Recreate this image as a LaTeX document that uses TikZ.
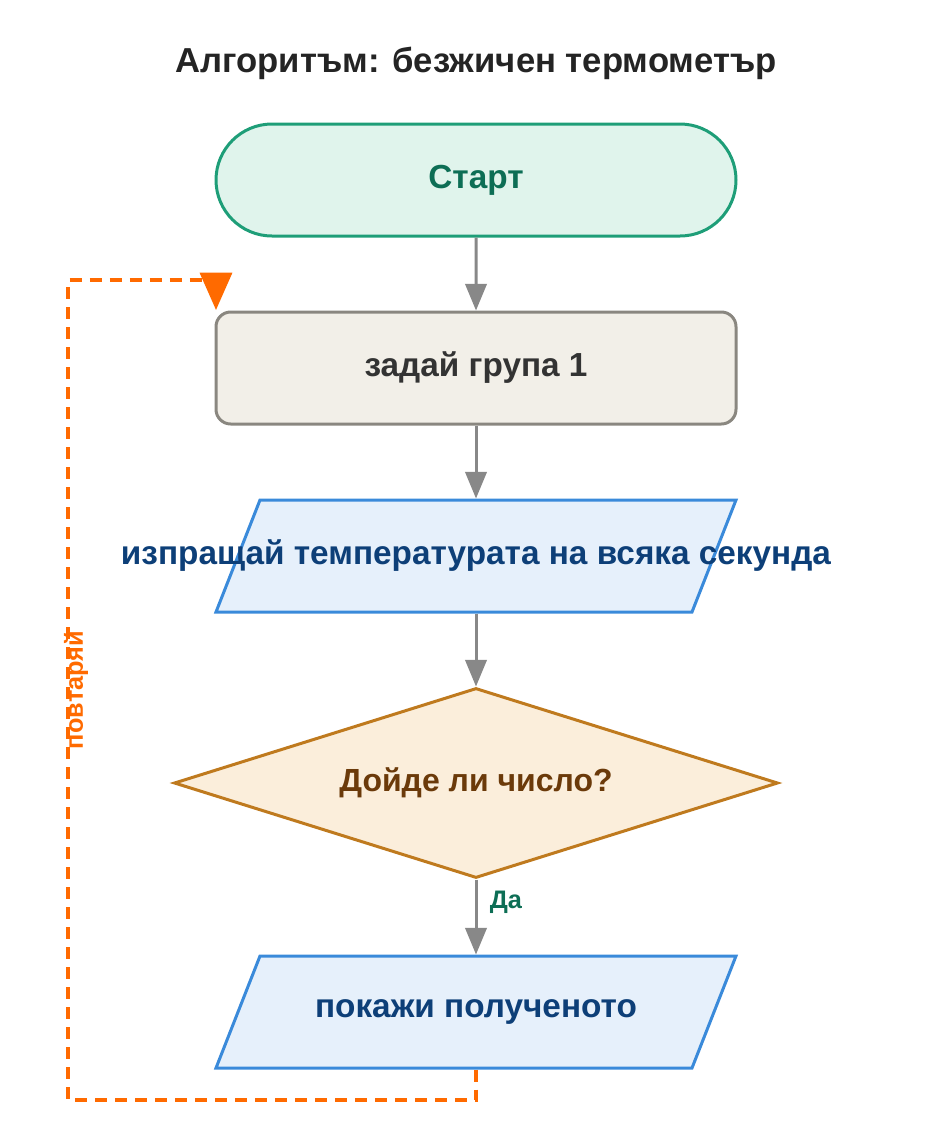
\documentclass[tikz,border=0pt]{standalone}
\usepackage{fontspec}
\setmainfont{Liberation Sans}
\usetikzlibrary{arrows.meta,shapes.geometric,shapes.misc,positioning}
\definecolor{startfill}{HTML}{E0F4EC}
\definecolor{startline}{HTML}{1E9E78}
\definecolor{starttext}{HTML}{0D6E55}
\definecolor{procfill}{HTML}{F2EFE8}
\definecolor{procline}{HTML}{8A8780}
\definecolor{proctext}{HTML}{333333}
\definecolor{iofill}{HTML}{E6F0FB}
\definecolor{ioline}{HTML}{3A8ADA}
\definecolor{iotext}{HTML}{0D3F78}
\definecolor{decfill}{HTML}{FBEEDB}
\definecolor{decline}{HTML}{BF7A1E}
\definecolor{dectext}{HTML}{6B3A0A}
\definecolor{loopcol}{HTML}{FF6A00}
\definecolor{arrowcol}{HTML}{888888}
\tikzset{
  box/.style={line width=2.25pt, font=\bfseries\fontsize{25}{30}\selectfont, inner sep=0pt},
  startstop/.style={box, rounded rectangle, fill=startfill, draw=startline, text=starttext,
    minimum width=390pt, minimum height=84pt},
  process/.style={box, rectangle, rounded corners=11pt, fill=procfill, draw=procline, text=proctext,
    minimum width=390pt, minimum height=84pt},
  io/.style={box, rectangle, minimum width=357pt, minimum height=84pt, text=iotext},
  ioshape/.style={line width=2.25pt, fill=iofill, draw=ioline},
  decision/.style={box, diamond, aspect=3.18, fill=decfill, draw=decline, text=dectext,
    minimum width=453pt, minimum height=142.5pt, font=\bfseries\fontsize{24}{28}\selectfont},
  flow/.style={draw=arrowcol, line width=2.25pt, -{Triangle[width=16pt,length=20pt]}},
  loop/.style={draw=loopcol, line width=2.8pt, dash pattern=on 9pt off 6pt},
  small/.style={font=\bfseries\fontsize{19}{22}\selectfont},
}
\begin{document}
\begin{tikzpicture}[x=0.75pt,y=-0.75pt]
  \useasboundingbox (0,0) rectangle (952,1132);

  % title
  \node[text=proctext!70!black] (title) at (476,63) {\bfseries\fontsize{26}{30}\selectfont Алгоритъм: безжичен термометър};

  % blocks
  \node[startstop] (start) at (476,180) {Старт};
  \node[process] (group) at (476,368) {задай група 1};
  \coordinate (sendc) at (476,556);
  \draw[ioshape] ([xshift=-195pt,yshift=-42pt]sendc) -- ([xshift=-162pt,yshift=42pt]sendc)
    -- ([xshift=195pt,yshift=42pt]sendc) -- ([xshift=162pt,yshift=-42pt]sendc) -- cycle;
  \node[io] (send) at (sendc) {изпращай температурата на всяка секунда};
  \node[decision] (check) at (476,783) {Дойде ли число?};
  \coordinate (showc) at (476,1012);
  \draw[ioshape] ([xshift=-195pt,yshift=-42pt]showc) -- ([xshift=-162pt,yshift=42pt]showc)
    -- ([xshift=195pt,yshift=42pt]showc) -- ([xshift=162pt,yshift=-42pt]showc) -- cycle;
  \node[io] (show) at (showc) {покажи полученото};

  % connectors
  \draw[flow] (start) -- (group);
  \draw[flow] (group) -- (send);
  \draw[flow] (send) -- (check);
  \draw[flow] (check) -- node[pos=0.3, right=6pt, small, text=starttext] (yes) {Да} (show);

  % loop back
  \coordinate (c1) at (476,1100);
  \coordinate (c2) at (68,1100);
  \coordinate (c3) at (68,280);
  \coordinate (c4) at (216,280);
  \coordinate (c5) at (216,310);
  \draw[loop] (show.south) -- (c1) -- (c2) -- (c3) -- (c4);
  \draw[draw=loopcol, line width=2.6pt, -{Triangle[width=24pt,length=28pt]}, fill=loopcol] (c4) -- (c5);
  \node[rotate=90, small, text=loopcol] (repeat) at (76,690) {повтаряй};
\end{tikzpicture}
\end{document}
